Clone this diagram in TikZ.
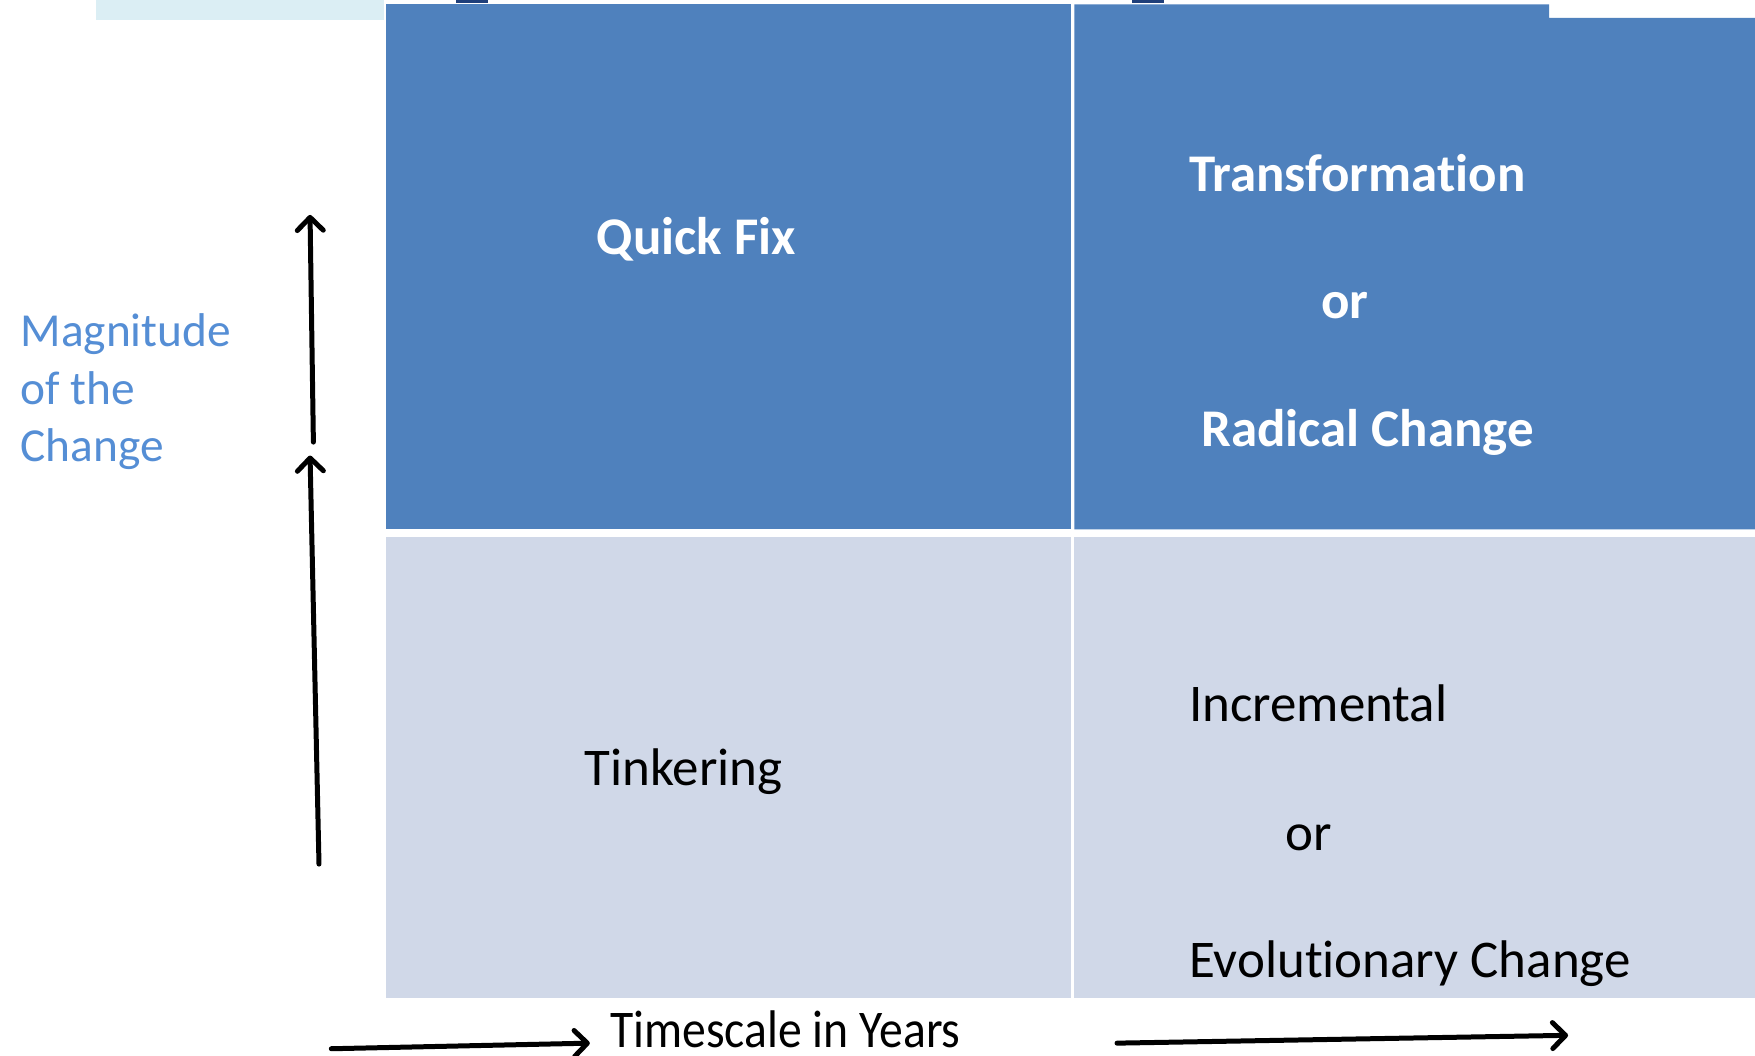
\documentclass[tikz,border=0pt]{standalone}
\usepackage{fontspec}
\setmainfont{Carlito}[Ligatures=NoCommon]
\usepackage{xcolor}
\usetikzlibrary{arrows.meta,positioning}

\definecolor{cellblue}{HTML}{4F81BD}
\definecolor{celllight}{HTML}{D0D8E8}
\definecolor{stripblue}{HTML}{DBEEF4}
\definecolor{labelblue}{HTML}{558ED5}
\definecolor{markblue}{HTML}{1F3F7A}

\tikzset{
  celltext/.style={anchor=base west, inner sep=0pt, font=\fontsize{26.5}{32}\selectfont},
  boldtext/.style={celltext, text=white, font=\fontsize{26.5}{32}\selectfont\bfseries},
  axisarrow/.style={line width=2.5pt, line cap=round, -{Straight Barb[length=6.5pt,width=13pt,round]}}
}

\begin{document}
\begin{tikzpicture}[x=0.56pt,y=-0.56pt]
            % change matrix
            \useasboundingbox (0,0) rectangle (1568,943);
            \fill[white] (0,0) rectangle (1568,943);

            % bits of the slide above
            \fill[stripblue] (86,0) rectangle (343,18);
            \fill[markblue] (407,0) rectangle (436,2.5);
            \fill[markblue] (1011,0) rectangle (1040,2.5);

            % the four cells
            \def\rowtop{4}
            \def\rowmid{473}
            \def\rowlow{480}
            \def\rowbot{892}
            \fill[cellblue] (345,\rowtop) rectangle (957,\rowmid);
            \fill[cellblue] (960,\rowtop) -- (1384,\rowtop) -- (1384,16) -- (1568,16) -- (1568,\rowmid) -- (960,\rowmid) -- cycle;
            \fill[celllight] (345,\rowlow) rectangle (957,\rowbot);
            \fill[celllight] (960,\rowlow) rectangle (1568,\rowbot);

            % top row
            \node[boldtext] (quickfix) at (533,227) {Quick Fix};
            \node[boldtext] (transform) at (1062,171) {Transformation};
            \node[boldtext] (ortop) at (1180,285) {or};
            \node[boldtext] (radical) at (1073,399) {Radical Change};

            % bottom row
            \node[celltext] (tinkering) at (522,702) {Tinkering};
            \node[celltext] (incremental) at (1062,645) {Incremental};
            \node[celltext] (orlow) at (1148,760) {or};
            \node[celltext] (evolution) at (1062,873) {Evolutionary Change};

            % axis labels
            \node[anchor=west, inner sep=0pt, align=left, text=labelblue, font=\fontsize{23.7}{28.8}\selectfont] (magnitude) at (18,350) {Magnitude\\of the\\Change};
            \node[celltext] (timescale) at (545,936) {\scalebox{0.9}[1]{Timescale in Years}};

            % arrows up the side
            \coordinate (upAs) at (285,772);
            \coordinate (upAe) at (277,407);
            \coordinate (upBs) at (280,395);
            \coordinate (upBe) at (277,192);
            \draw[axisarrow] (upAs) -- (upAe);
            \draw[axisarrow] (upBs) -- (upBe);

            % arrows along the bottom
            \coordinate (rtAs) at (296,937);
            \coordinate (rtAe) at (527,932);
            \coordinate (rtBs) at (998,932);
            \coordinate (rtBe) at (1401,925);
            \draw[axisarrow] (rtAs) -- (rtAe);
            \draw[axisarrow] (rtBs) -- (rtBe);
        \end{tikzpicture}
\end{document}
